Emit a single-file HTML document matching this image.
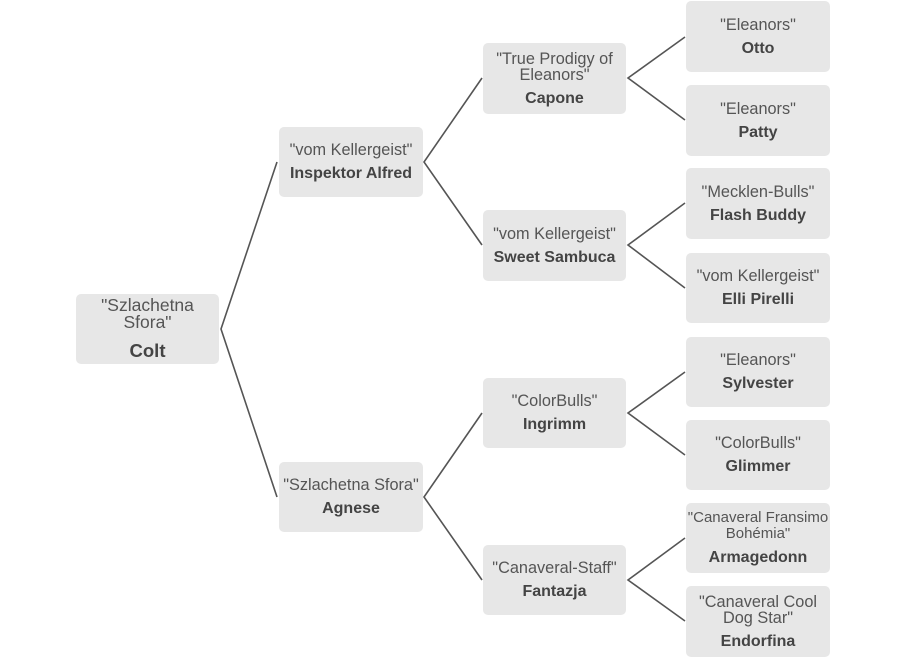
<!DOCTYPE html>
<html><head><meta charset="utf-8"><style>
html,body{margin:0;padding:0;background:#fff;}
body{width:906px;height:659px;position:relative;overflow:hidden;font-family:"Liberation Sans",Arial,sans-serif;}
.b{position:absolute;background:#e7e7e7;border-radius:5px;display:flex;flex-direction:column;justify-content:center;align-items:center;text-align:center;white-space:nowrap;}
.q{color:#555;font-size:16.3px;line-height:16px;}
.n{color:#444;font-size:16px;font-weight:bold;line-height:17px;margin-top:7px;}
.r .q{font-size:17.5px;line-height:17px;}
.r .n{font-size:18.5px;line-height:20px;margin-top:10.5px;}
svg{position:absolute;left:0;top:0;}
</style></head><body>
<svg width="906" height="659" viewBox="0 0 906 659">
<g stroke="#555" stroke-width="1.6" fill="none">
<polyline points="277,162 221,329 277,497"/>
<polyline points="482,78 424,162 482,245"/>
<polyline points="482,413 424,497 482,580"/>
<polyline points="685,37 628,78 685,120"/>
<polyline points="685,203 628,245 685,288"/>
<polyline points="685,372 628,413 685,455"/>
<polyline points="685,538 628,580 685,621"/>
</g>
</svg>

<div class="b r" style="left:76px;top:294px;width:143px;height:70px;"><div class="q">"Szlachetna<br>Sfora"</div><div class="n">Colt</div></div>

<div class="b" style="left:279px;top:127px;width:144px;height:70px;"><div class="q">"vom Kellergeist"</div><div class="n">Inspektor Alfred</div></div>
<div class="b" style="left:279px;top:462px;width:144px;height:70px;"><div class="q">"Szlachetna Sfora"</div><div class="n">Agnese</div></div>

<div class="b" style="left:483px;top:43px;width:143px;height:71px;"><div class="q">"True Prodigy of<br>Eleanors"</div><div class="n">Capone</div></div>
<div class="b" style="left:483px;top:210px;width:143px;height:71px;"><div class="q">"vom Kellergeist"</div><div class="n">Sweet Sambuca</div></div>
<div class="b" style="left:483px;top:378px;width:143px;height:70px;"><div class="q">"ColorBulls"</div><div class="n">Ingrimm</div></div>
<div class="b" style="left:483px;top:545px;width:143px;height:70px;"><div class="q">"Canaveral-Staff"</div><div class="n">Fantazja</div></div>

<div class="b" style="left:686px;top:1px;width:144px;height:71px;"><div class="q">"Eleanors"</div><div class="n">Otto</div></div>
<div class="b" style="left:686px;top:85px;width:144px;height:71px;"><div class="q">"Eleanors"</div><div class="n">Patty</div></div>
<div class="b" style="left:686px;top:168px;width:144px;height:71px;"><div class="q">"Mecklen-Bulls"</div><div class="n">Flash Buddy</div></div>
<div class="b" style="left:686px;top:253px;width:144px;height:70px;"><div class="q">"vom Kellergeist"</div><div class="n">Elli Pirelli</div></div>
<div class="b" style="left:686px;top:337px;width:144px;height:70px;"><div class="q">"Eleanors"</div><div class="n">Sylvester</div></div>
<div class="b" style="left:686px;top:420px;width:144px;height:70px;"><div class="q">"ColorBulls"</div><div class="n">Glimmer</div></div>
<div class="b" style="left:686px;top:503px;width:144px;height:70px;"><div class="q" style="font-size:15px;">"Canaveral Fransimo<br>Bohémia"</div><div class="n">Armagedonn</div></div>
<div class="b" style="left:686px;top:586px;width:144px;height:71px;"><div class="q">"Canaveral Cool<br>Dog Star"</div><div class="n">Endorfina</div></div>
</body></html>
